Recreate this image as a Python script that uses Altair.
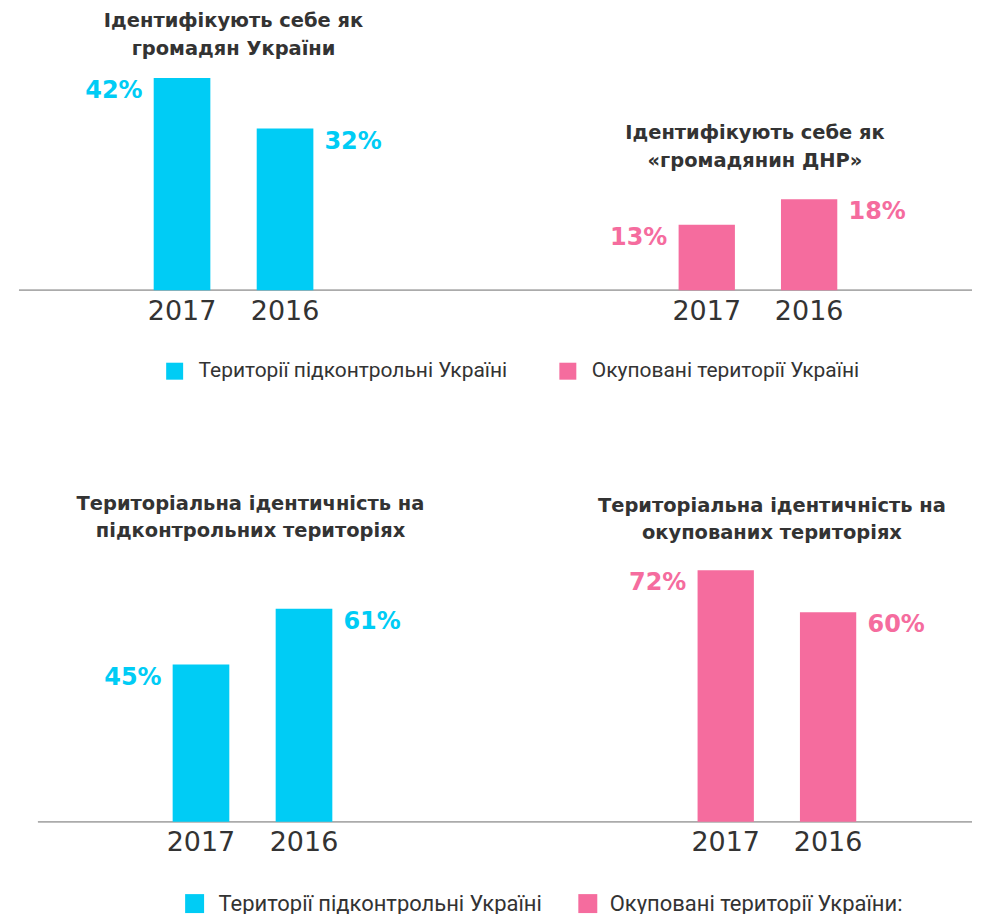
import altair as alt
import pandas as pd

# ---- data ----
years = ["2017", "2016"]
ua_citizens = [42, 32]          # Ідентифікують себе як громадян України
dnr_citizens = [13, 18]         # Ідентифікують себе як «громадянин ДНР»
terr_controlled = [45, 61]      # Територіальна ідентичність на підконтрольних територіях
terr_occupied = [72, 60]        # Територіальна ідентичність на окупованих територіях

title_tl = ["Ідентифікують себе як", "громадян України"]
title_tr = ["Ідентифікують себе як", "«громадянин ДНР»"]
title_bl = ["Територіальна ідентичність на", "підконтрольних територіях"]
title_br = ["Територіальна ідентичність на", "окупованих територіях"]

legend_top = ["Території підконтрольні Україні", "Окуповані території Україні"]
legend_bottom = ["Території підконтрольні Україні", "Окуповані території України:"]

# ---- styles ----
CYAN = "#00CCF5"
PINK = "#F56C9E"
TEXT = "#333333"
LINE = "#ABABAB"
W_LEFT, W_RIGHT = 472, 483
HALF_BAR = 28.5


def legend_layers(labels, y, xs, font_size, sq):
    """Square + label for each legend entry (xs: square centre, text start)."""
    out = []
    for label, color, (xsq, xtx) in zip(labels, [CYAN, PINK], xs):
        d = pd.DataFrame({"label": [label]})
        out.append(alt.Chart(d).mark_square(size=sq * sq, color=color, opacity=1).encode(
            x=alt.value(xsq), y=alt.value(y)))
        out.append(alt.Chart(d).mark_text(align="left", baseline="middle", font="Roboto",
                                          fontSize=font_size, color=TEXT).encode(
            x=alt.value(xtx), y=alt.value(y), text="label:N"))
    return out


def panel(values, color, title, title_dx, title_dy, title_offset, line_height,
          x_range, y_max, height, width, rule_from=0, extra=()):
    df = pd.DataFrame({"year": years, "value": values})
    df["label"] = [f"{v}%" for v in values]
    base = alt.Chart(df)

    x_axis = alt.Axis(title=None, domain=False, ticks=False, tickSize=0,
                      labelFont="DejaVu Sans", labelFontSize=27, labelColor=TEXT,
                      labelPadding=8, labelAngle=0, grid=False)
    x = alt.X("year:N", sort=years,
              scale=alt.Scale(range=x_range, paddingInner=0.45, paddingOuter=0),
              axis=x_axis)
    y = alt.Y("value:Q", scale=alt.Scale(domain=[0, y_max]), axis=None)

    rule = base.mark_rule(color=LINE, strokeWidth=1.5).encode(
        x=alt.value(rule_from), x2=alt.value(width), y=alt.value(height))
    bars = base.mark_bar(color=color).encode(x=x, y=y)

    txt = dict(baseline="middle", dy=13, font="DejaVu Sans", fontSize=24,
               fontWeight="bold", color=color)
    lab_left = base.transform_filter(alt.datum.year == years[0]).mark_text(
        align="right", dx=-(HALF_BAR + 11), **txt).encode(
        x=alt.X("year:N", sort=years), y="value:Q", text="label:N")
    lab_right = base.transform_filter(alt.datum.year == years[1]).mark_text(
        align="left", dx=HALF_BAR + 11, **txt).encode(
        x=alt.X("year:N", sort=years), y="value:Q", text="label:N")

    layers = [rule, bars, lab_left, lab_right] + list(extra)

    return alt.layer(*layers).properties(
        width=width, height=height,
        title=alt.TitleParams(text=title, font="DejaVu Sans", fontSize=19.5,
                              fontWeight="bold", color=TEXT, lineHeight=line_height,
                              anchor="middle", dx=title_dx, dy=title_dy,
                              offset=title_offset),
    )


leg1 = legend_layers(legend_top, 309, [(174 - 18, 198 - 18), (568 - 18, 592 - 18)], 21, 17)
leg2 = legend_layers(legend_bottom, 362, [(194 - 18, 218 - 18), (588 - 18, 610 - 18)], 22, 19)

tl = panel(ua_citizens, CYAN, title_tl, -21, 0, 3, 28,
           [135, 295], 45, 228, W_LEFT, extra=leg1)
tr = panel(dnr_citizens, PINK, title_tr, 24, 112, 3, 28,
           [189, 348], 45, 228, W_RIGHT)
bl = panel(terr_controlled, CYAN, title_bl, -4, 0, 1, 27,
           [154, 314], 80, 280, W_LEFT, rule_from=19, extra=leg2)
br = panel(terr_occupied, PINK, title_br, 41, 2, 1, 27,
           [208, 367], 80, 280, W_RIGHT)

chart = (
    alt.concat(tl, tr, bl, br, columns=2,
               spacing=alt.RowColnumber(row=252.5, column=0), bounds="flush")
    .properties(padding={"left": 10, "top": 2, "right": 0, "bottom": 4})
    .configure_view(stroke=None)
)

chart.save("out.html", embed_options={"renderer": "svg", "actions": False})
